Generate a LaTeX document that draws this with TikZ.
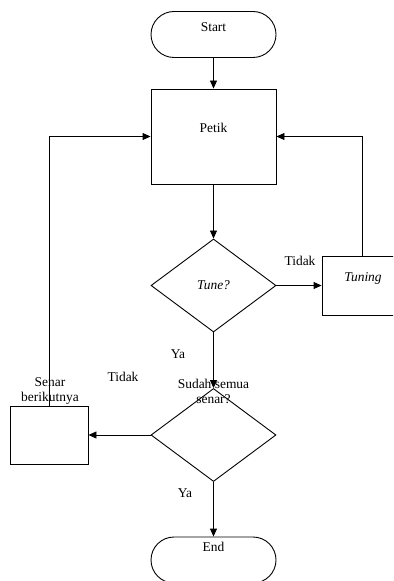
\documentclass[tikz,border=0pt]{standalone}
\usepackage{fontspec}
\setmainfont{Liberation Serif}
\usetikzlibrary{shapes.geometric, shapes.misc, arrows.meta, positioning}

\tikzset{
  terminal/.style={draw, rounded rectangle, minimum width=125bp, minimum height=46bp, inner sep=0pt},
  proses/.style={draw, rectangle, inner sep=0pt},
  pilihan/.style={draw, diamond, minimum width=125bp, minimum height=93bp, inner sep=0pt, font=\fontsize{13.5}{15}\selectfont},
  panah/.style={-{Triangle[length=8bp,width=7bp]}},
  teks/.style={font=\fontsize{13.5}{15}\selectfont, inner sep=0pt, align=center}
}

\begin{document}
\begin{tikzpicture}[x=1bp, y=-1bp, line width=0.9bp]
  \clip (0,0) rectangle (393,581);
%shapes
  \node[terminal] (start) at (213.5,34.5) {};
  \node[teks] (tstart) at (213.5,27) {Start};
  \node[proses, minimum width=125bp, minimum height=95bp] (petik) at (213.5,136.5) {};
  \node[teks] (tpetik) at (213.5,128) {Petik};
  \node[pilihan] (tune) at (213.5,285.5) {\textit{Tune?}};
  \node[proses, minimum width=82bp, minimum height=59bp] (tuning) at (363,285.5) {};
  \node[teks] (ttuning) at (363,278) {\textit{Tuning}};
  \node[pilihan] (cek) at (213.5,435) {};
  \node[teks] (tcek) at (213.5,391) {Sudah semua\\senar?};
  \node[proses, minimum width=78bp, minimum height=58bp] (senar) at (49,435) {};
  \node[teks] (tsenar) at (50,391) {Senar\\berikutnya};
  \node[terminal] (end) at (213.5,560) {};
  \node[teks] (tend) at (213.5,547) {End};

%corners
  \coordinate (kanan) at (362,136.5);
  \coordinate (kiri) at (49,136.5);

%edges
  \draw[panah] (start) -- (petik);
  \draw[panah] (petik) -- (tune);
  \draw[panah] (tune) -- (tuning);
  \draw[panah] (tuning.north -| kanan) -- (kanan) -- (petik.east);
  \draw[panah] (tune) -- (cek);
  \draw[panah] (cek) -- (senar);
  \draw[panah] (senar.north -| kiri) -- (kiri) -- (petik.west);
  \draw[panah] (cek) -- (end);

%labels
  \node[teks] (tidak1) at (300,261) {Tidak};
  \node[teks] (ya1) at (178,354) {Ya};
  \node[teks] (tidak2) at (123,377) {Tidak};
  \node[teks] (ya2) at (185,493) {Ya};
\end{tikzpicture}
\end{document}
